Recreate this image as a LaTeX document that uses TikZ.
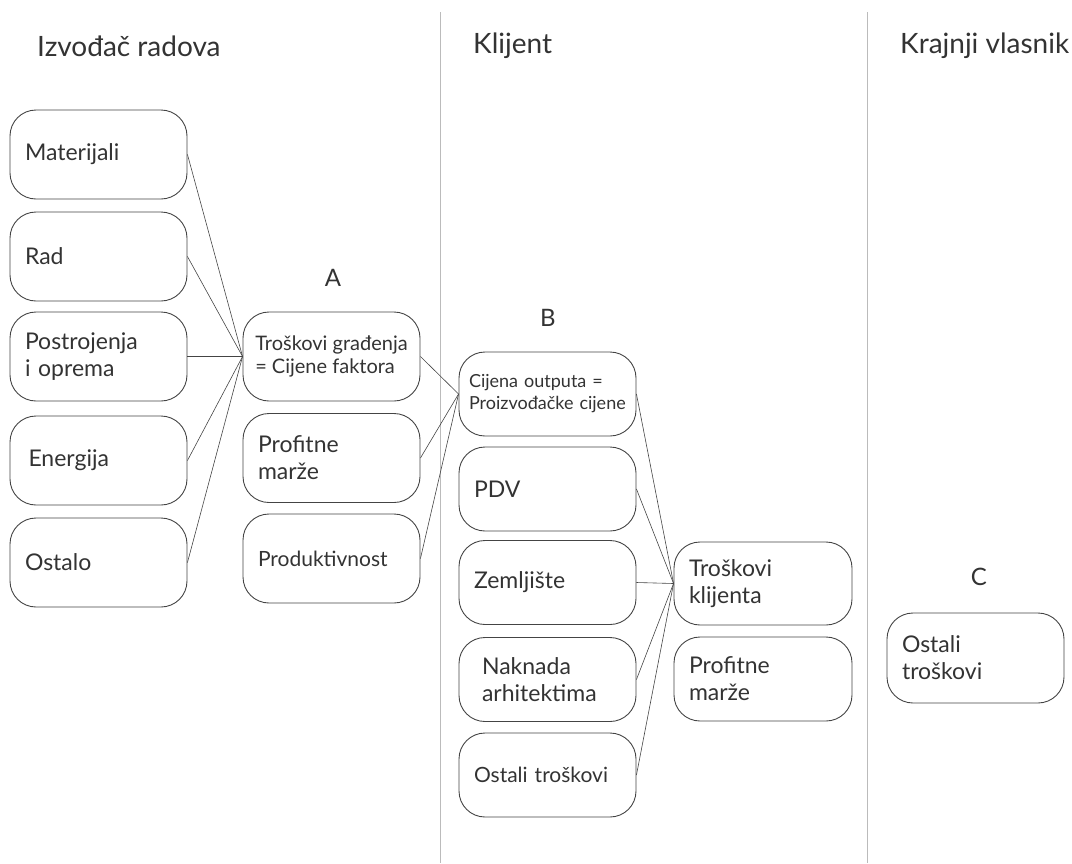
\documentclass[tikz,border=0pt]{standalone}
\usepackage{fontspec}
\setmainfont{Lato}
\definecolor{txt}{HTML}{333333}
\definecolor{edge}{HTML}{444444}
\definecolor{sep}{HTML}{BBBBBB}
\tikzset{
  box/.style={draw=edge, line width=0.9pt, rounded corners=26pt, text=txt,
    minimum height=89pt, align=left, text width=#1, inner xsep=15pt,
    font=\fontsize{23}{27}\selectfont},
  box/.default=147pt,
  cbox/.style={draw=edge, line width=0.9pt, rounded corners=26pt, text=txt,
    minimum height=89pt, minimum width=177pt, align=left, inner xsep=0pt},
  fsmall/.style={font=\fontsize{18}{22}\selectfont},
  ftg/.style={font=\fontsize{20}{23}\selectfont},
  fmid/.style={font=\fontsize{21}{25}\selectfont},
  sbox/.style={box=157pt, inner xsep=10pt, fsmall},
  head/.style={anchor=west, text=txt, font=\fontsize{28}{32}\selectfont, inner sep=0pt},
  lab/.style={text=txt, font=\fontsize{24}{28}\selectfont, inner sep=0pt},
  conn/.style={draw=edge, line width=0.6pt},
  sepline/.style={draw=sep, line width=1pt}
}
\begin{document}
\begin{tikzpicture}[x=1pt,y=-1pt]
\useasboundingbox (0,0) rectangle (1072,863);
% separators
\coordinate (s1t) at (440,12); \coordinate (s1b) at (440,863);
\coordinate (s2t) at (867,12); \coordinate (s2b) at (867,863);
\draw[sepline] (s1t) -- (s1b);
\draw[sepline] (s2t) -- (s2b);
% headers
\node[head] (h1) at (37,46) {Izvođač radova};
\node[head] (h2) at (473,46) {Klijent};
\node[head] (h3) at (900,46) {Krajnji vlasnik};
% left column
\node[box] (mat) at (98.5,154.5) {Materijali};
\node[box] (rad) at (98.5,256.5) {Rad};
\node[box] (post) at (98.5,356.5) {Postrojenja\\i oprema};
\node[box=140pt, inner xsep=18.5pt] (ener) at (98.5,460.5) {Energija};
\node[box] (ost) at (98.5,562.5) {Ostalo};
% A column
\node[lab] (la) at (333,278) {A};
\node[cbox, ftg] (tg) at (331.5,356.5) {Troškovi građenja\\= Cijene faktora};
\node[box] (pm) at (331.5,458) {Profitne\\marže};
\node[box, fmid] (prod) at (331.5,558.5) {Produktivnost};
% B column
\node[lab] (lb) at (548,318) {B};
\node[sbox, minimum height=84pt] (cij) at (547.5,394) {Cijena outputa =\\Proizvođačke cijene};
\node[box, minimum height=84pt] (pdv) at (547.5,489) {PDV};
\node[box, minimum height=84pt] (zem) at (547.5,582.5) {Zemljište};
\node[box=131pt, inner xsep=23pt, minimum height=84pt] (nak) at (547.5,679.5) {Naknada\\arhitektima};
\node[box, fmid, minimum height=84pt] (ostb) at (547.5,775) {Ostali troškovi};
% client result column
\node[box=148pt, minimum height=83pt] (tk) at (763,583.5) {Troškovi\\klijenta};
\node[box=148pt, minimum height=84pt] (pm2) at (763,679) {Profitne\\marže};
% C column
\node[lab] (lc) at (979,577) {C};
\node[box, minimum height=90pt] (ostc) at (975.5,658) {Ostali\\troškovi};
% connectors
\foreach \s in {mat,rad,post,ener,ost} \draw[conn] (\s.east) -- (tg.west);
\foreach \s in {tg,pm,prod} \draw[conn] (\s.east) -- (cij.west);
\foreach \s in {cij,pdv,zem,nak,ostb} \draw[conn] (\s.east) -- (tk.west);
\end{tikzpicture}
\end{document}
